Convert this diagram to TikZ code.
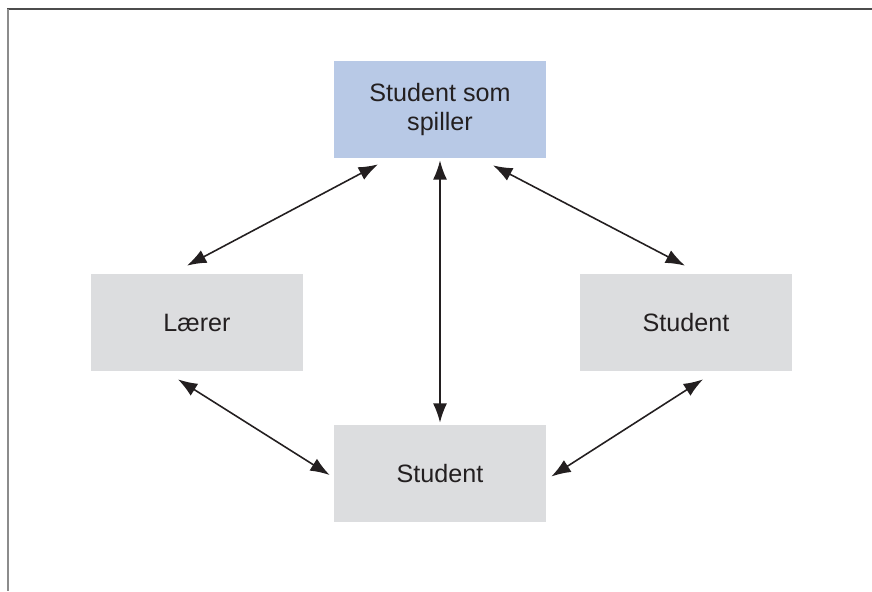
\documentclass[tikz,border=0pt]{standalone}
\usepackage{fontspec}
\setmainfont{Liberation Sans}
\usepackage{tikz}
\usetikzlibrary{arrows.meta,positioning}
\definecolor{playblue}{RGB}{184,201,230}
\definecolor{boxgray}{RGB}{220,221,223}
\definecolor{txt}{RGB}{35,31,32}

\begin{document}
\begin{tikzpicture}[node distance=4.26cm, every node/.style={font=\fontsize{14.3}{16}\selectfont, text=txt}, align=center, link/.style={{Latex[length=11pt,width=8pt]}-{Latex[length=11pt,width=8pt]}, line width=0.9pt, draw=txt}]
            \useasboundingbox (0,0) rectangle (17.44,-11.82);
            % Frame
            \draw[line width=0.8pt, draw=black!70] (0.14,-0.18) -- (17.44,-0.18);
            \draw[line width=1pt, draw=black!45] (0.16,-0.18) -- (0.16,-11.82);

            % Define blocks
            \node (spiller) [rectangle, fill=playblue, minimum width=4.24cm, minimum height=1.94cm] at (8.8,-2.19) {Student som\\spiller};
            \node (laerer) [rectangle, fill=boxgray, below of=spiller, xshift=-4.86cm, minimum width=4.24cm, minimum height=1.94cm] {Lærer};
            \node (studentr) [rectangle, fill=boxgray, below of=spiller, xshift=4.92cm, minimum width=4.24cm, minimum height=1.94cm] {Student};
            \node (studentb) [rectangle, fill=boxgray, below of=spiller, yshift=-3.02cm, minimum width=4.24cm, minimum height=1.94cm] {Student};

            % Draw arrows
            \draw[link] ([xshift=-1.24cm, yshift=-0.12cm]spiller.south) -- ([xshift=-0.2cm, yshift=0.16cm]laerer.north);
            \draw[link] ([yshift=-0.04cm]spiller.south) -- ([yshift=0.04cm]studentb.north);
            \draw[link] ([xshift=1.06cm, yshift=-0.14cm]spiller.south) -- ([xshift=-0.02cm, yshift=0.16cm]studentr.north);
            \draw[link] ([xshift=-0.38cm, yshift=-0.16cm]laerer.south) -- ([xshift=-0.08cm, yshift=-0.03cm]studentb.west);
            \draw[link] ([xshift=0.34cm, yshift=-0.16cm]studentr.south) -- ([xshift=0.1cm, yshift=-0.06cm]studentb.east);
        \end{tikzpicture}
\end{document}
